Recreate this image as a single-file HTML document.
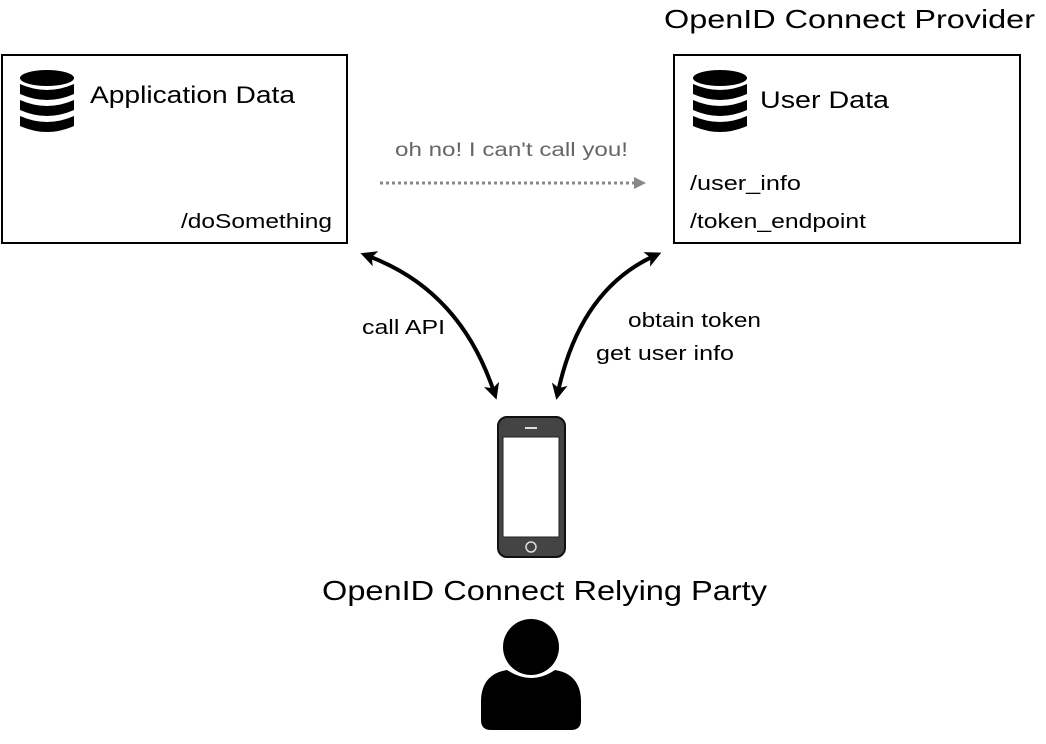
<!DOCTYPE html>
<html><head><style>
html,body{margin:0;padding:0;background:#fff;}
svg text{font-family:"Liberation Sans",sans-serif;}
</style></head><body>
<svg width="1046" height="739" viewBox="0 0 1046 739" xmlns="http://www.w3.org/2000/svg">
<defs>
<g id="db">
<ellipse cx="27" cy="8" rx="27" ry="8" fill="#000"/>
<path d="M0 14 Q27 26 54 14 V24 Q27 36 0 24 Z" fill="#000"/>
<path d="M0 30 Q27 42 54 30 V40 Q27 52 0 40 Z" fill="#000"/>
<path d="M0 46 Q27 58 54 46 V56 Q27 68 0 56 Z" fill="#000"/>
</g>
<marker id="ah" markerWidth="16" markerHeight="16" refX="8" refY="8" orient="auto-start-reverse" markerUnits="userSpaceOnUse">
<path d="M0 0 L16 8 L0 16 L4 8 Z" fill="#000"/>
</marker>
<marker id="ahg" markerWidth="12" markerHeight="12" refX="8" refY="6" orient="auto" markerUnits="userSpaceOnUse">
<path d="M0 0 L12 6 L0 12 Z" fill="#888"/>
</marker>
</defs>
<rect x="2" y="55" width="345" height="188" fill="#fff" stroke="#000" stroke-width="2"/>
<use href="#db" x="20" y="70"/>
<text x="90" y="103" font-size="24" textLength="205" lengthAdjust="spacingAndGlyphs">Application Data</text>
<text x="181" y="228" font-size="20" textLength="151" lengthAdjust="spacingAndGlyphs">/doSomething</text>
<text x="664" y="28" font-size="26" textLength="371" lengthAdjust="spacingAndGlyphs">OpenID Connect Provider</text>
<rect x="674" y="55" width="346" height="188" fill="#fff" stroke="#000" stroke-width="2"/>
<use href="#db" x="693" y="70"/>
<text x="760" y="108" font-size="24" textLength="129" lengthAdjust="spacingAndGlyphs">User Data</text>
<text x="690" y="190" font-size="20" textLength="111" lengthAdjust="spacingAndGlyphs">/user_info</text>
<text x="690" y="228" font-size="20" textLength="176" lengthAdjust="spacingAndGlyphs">/token_endpoint</text>
<text x="395" y="156" font-size="19" fill="#666" textLength="233" lengthAdjust="spacingAndGlyphs">oh no! I can't call you!</text>
<line x1="380" y1="183" x2="642" y2="183" stroke="#888" stroke-width="3" stroke-dasharray="3,3" marker-end="url(#ahg)"/>
<path d="M368 256 Q460 290 494 392" fill="none" stroke="#000" stroke-width="4" marker-start="url(#ah)" marker-end="url(#ah)"/>
<path d="M654 256 Q580 290 558 392" fill="none" stroke="#000" stroke-width="4" marker-start="url(#ah)" marker-end="url(#ah)"/>
<text x="362" y="334" font-size="20" textLength="83" lengthAdjust="spacingAndGlyphs">call API</text>
<text x="628" y="327" font-size="20" textLength="133" lengthAdjust="spacingAndGlyphs">obtain token</text>
<text x="596" y="360" font-size="20" textLength="138" lengthAdjust="spacingAndGlyphs">get user info</text>
<rect x="498" y="417" width="67" height="140" rx="9" fill="#444" stroke="#111" stroke-width="2"/>
<rect x="503" y="437" width="56" height="100" fill="#fff" stroke="#222" stroke-width="1"/>
<line x1="525" y1="428" x2="537" y2="428" stroke="#ddd" stroke-width="2"/>
<circle cx="531" cy="547" r="5" fill="none" stroke="#ddd" stroke-width="1.5"/>
<text x="322" y="600" font-size="28" textLength="445" lengthAdjust="spacingAndGlyphs">OpenID Connect Relying Party</text>
<circle cx="531" cy="647" r="28" fill="#000"/>
<path d="M507 670 Q531 686 555 670 Q580 674 581 700 V720 Q581 730 571 730 H491 Q481 730 481 720 V700 Q482 674 507 670 Z" fill="#000"/>
</svg>
</body></html>
